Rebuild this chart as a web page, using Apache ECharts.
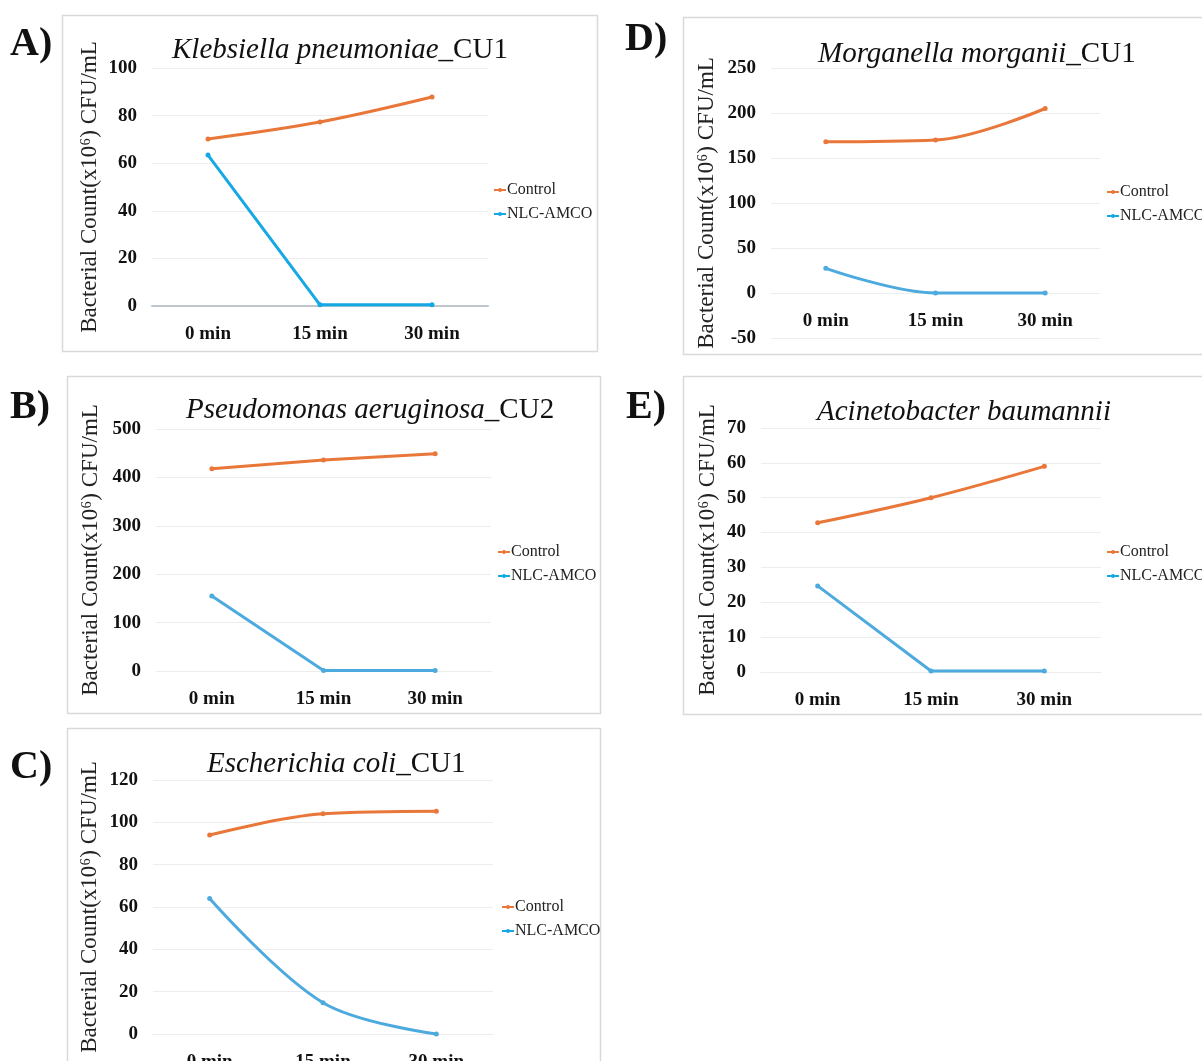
<!DOCTYPE html>
<html>
<head>
<meta charset="utf-8">
<script src="https://cdn.jsdelivr.net/npm/echarts@6/dist/echarts.min.js"></script>
<style>
  html, body { margin: 0; padding: 0; background: #fff; }
  #main { width: 1202px; height: 1061px; }
</style>
</head>
<body>
<div id="main"></div>
<script>
var times = ['0 min', '15 min', '30 min'];

// A) Klebsiella pneumoniae_CU1
var kpControl = [70.2, 77.3, 87.8];
var kpNlc = [63.4, 0.5, 0.5];
// B) Pseudomonas aeruginosa_CU2
var paControl = [418, 436, 449];
var paNlc = [155, 1, 1];
// C) Escherichia coli_CU1
var ecControl = [94, 104, 105.2];
var ecNlc = [64, 14.8, 0];
// D) Morganella morganii_CU1
var mmControl = [168, 170, 205];
var mmNlc = [27.4, 0, 0];
// E) Acinetobacter baumannii
var abControl = [42.8, 50, 59];
var abNlc = [24.7, 0.3, 0.3];

var serif = "'Liberation Serif', 'Times New Roman', serif";
var orange = '#E9773A';
var blue = '#4DAADF';
var yName = 'Bacterial Count(x10\u2076) CFU/mL';

var myChart = echarts.init(document.getElementById('main'));

// one entry per panel: outer box, plot area, axis range, title, legend spot
var panels = [
    {label: 'A)', lx: 10, ly: 25, box: [62, 15, 535, 336], grid: [152, 68, 336, 238],
     min: 0, max: 100, step: 20, title: ['Klebsiella pneumoniae', '_CU1'], tx: 167, ty: 31,
     legend: [488, 177], ctl: kpControl, nlc: kpNlc, smoothC: true, smoothN: false,
     nlcColor: '#14A8E4', axisColor: '#BFC6CD', axisWidth: 2, nameGap: 51, labelMargin: 19},
    {label: 'B)', lx: 10, ly: 388, box: [67, 376, 533, 337], grid: [156, 429, 335, 242],
     min: 0, max: 500, step: 100, title: ['Pseudomonas aeruginosa', '_CU2'], tx: 181, ty: 391,
     legend: [492, 539], ctl: paControl, nlc: paNlc, smoothC: false, smoothN: false,
     nlcColor: blue, axisColor: '#EDEDED', axisWidth: 1, nameGap: 54, labelMargin: 19},
    {label: 'C)', lx: 10, ly: 748, box: [67, 728, 533, 345], grid: [153, 780, 340, 254],
     min: 0, max: 120, step: 20, title: ['Escherichia coli', '_CU1'], tx: 202, ty: 745,
     legend: [496, 894], ctl: ecControl, nlc: ecNlc, smoothC: true, smoothN: true,
     nlcColor: blue, axisColor: '#EDEDED', axisWidth: 1, nameGap: 52, labelMargin: 19},
    // the category labels sit just under the zero line, above the -50 gridline
    {label: 'D)', lx: 625, ly: 20, box: [683, 17, 540, 337], grid: [771, 68, 329, 270],
     min: -50, max: 250, step: 50, title: ['Morganella morganii', '_CU1'], tx: 813, ty: 35,
     legend: [1101, 179], ctl: mmControl, nlc: mmNlc, smoothC: true, smoothN: true,
     nlcColor: blue, axisColor: '#EDEDED', axisWidth: 1, nameGap: 53, labelMargin: -26},
    {label: 'E)', lx: 626, ly: 388, box: [683, 376, 540, 338], grid: [761, 428, 340, 244],
     min: 0, max: 70, step: 10, title: ['Acinetobacter baumannii', ''], tx: 812, ty: 393,
     legend: [1101, 539], ctl: abControl, nlc: abNlc, smoothC: true, smoothN: false,
     nlcColor: blue, axisColor: '#EDEDED', axisWidth: 1, nameGap: 42, labelMargin: 19}
];

var grids = [], xAxes = [], yAxes = [], series = [], titles = [], legends = [], graphics = [];

panels.forEach(function (p, i) {
    graphics.push({
        type: 'rect', silent: true, z: -1,
        shape: {x: p.box[0] + 0.5, y: p.box[1] + 0.5, width: p.box[2], height: p.box[3]},
        style: {fill: '#fff', stroke: '#d9d9d9', lineWidth: 1.5}
    });
    graphics.push({
        type: 'text', left: p.lx, top: p.ly,
        style: {text: p.label, font: 'bold 40px ' + serif, fill: '#111'}
    });
    grids.push({
        left: p.grid[0], top: p.grid[1], width: p.grid[2], height: p.grid[3],
        outerBoundsMode: 'none'
    });
    xAxes.push({
        type: 'category', gridIndex: i, data: times, boundaryGap: true,
        axisLine: {show: true, onZero: true, lineStyle: {color: p.axisColor, width: p.axisWidth}},
        axisTick: {show: false},
        axisLabel: {margin: p.labelMargin, color: '#111', fontFamily: serif, fontWeight: 'bold', fontSize: 19}
    });
    yAxes.push({
        type: 'value', gridIndex: i, min: p.min, max: p.max, interval: p.step,
        name: yName, nameLocation: 'middle', nameGap: p.nameGap,
        nameTextStyle: {fontFamily: serif, fontSize: 23, color: '#222'},
        axisLine: {show: false}, axisTick: {show: false},
        axisLabel: {margin: 15, color: '#111', fontFamily: serif, fontWeight: 'bold', fontSize: 19},
        splitLine: {lineStyle: {color: '#EDEDED', width: 1}}
    });
    titles.push({
        left: p.tx, top: p.ty,
        text: '{i|' + p.title[0] + '}' + (p.title[1] ? '{n|' + p.title[1] + '}' : ''),
        textStyle: {
            fontWeight: 'normal',
            rich: {
                i: {fontFamily: serif, fontStyle: 'italic', fontWeight: 'normal', fontSize: 29, color: '#111'},
                n: {fontFamily: serif, fontWeight: 'normal', fontSize: 29, color: '#111'}
            }
        }
    });
    legends.push({
        orient: 'vertical', left: p.legend[0], top: p.legend[1], itemGap: 8,
        itemWidth: 12, itemHeight: 5,
        data: ['Control', 'NLC-AMCO'],
        textStyle: {fontFamily: serif, fontSize: 16, color: '#222', padding: [0, 0, 0, -4]}
    });
    series.push({
        name: 'Control', type: 'line', xAxisIndex: i, yAxisIndex: i,
        data: p.ctl, smooth: p.smoothC ? 0.35 : false,
        symbol: 'circle', symbolSize: 5, color: orange,
        lineStyle: {width: 3}
    });
    series.push({
        name: 'NLC-AMCO', type: 'line', xAxisIndex: i, yAxisIndex: i,
        data: p.nlc, smooth: p.smoothN ? 0.35 : false,
        symbol: 'circle', symbolSize: 5, color: p.nlcColor,
        lineStyle: {width: 3}
    });
});

var option = {
    backgroundColor: '#fff',
    animation: false,
    title: titles,
    legend: legends,
    grid: grids,
    xAxis: xAxes,
    yAxis: yAxes,
    series: series,
    graphic: graphics
};

myChart.setOption(option);
</script>
</body>
</html>
